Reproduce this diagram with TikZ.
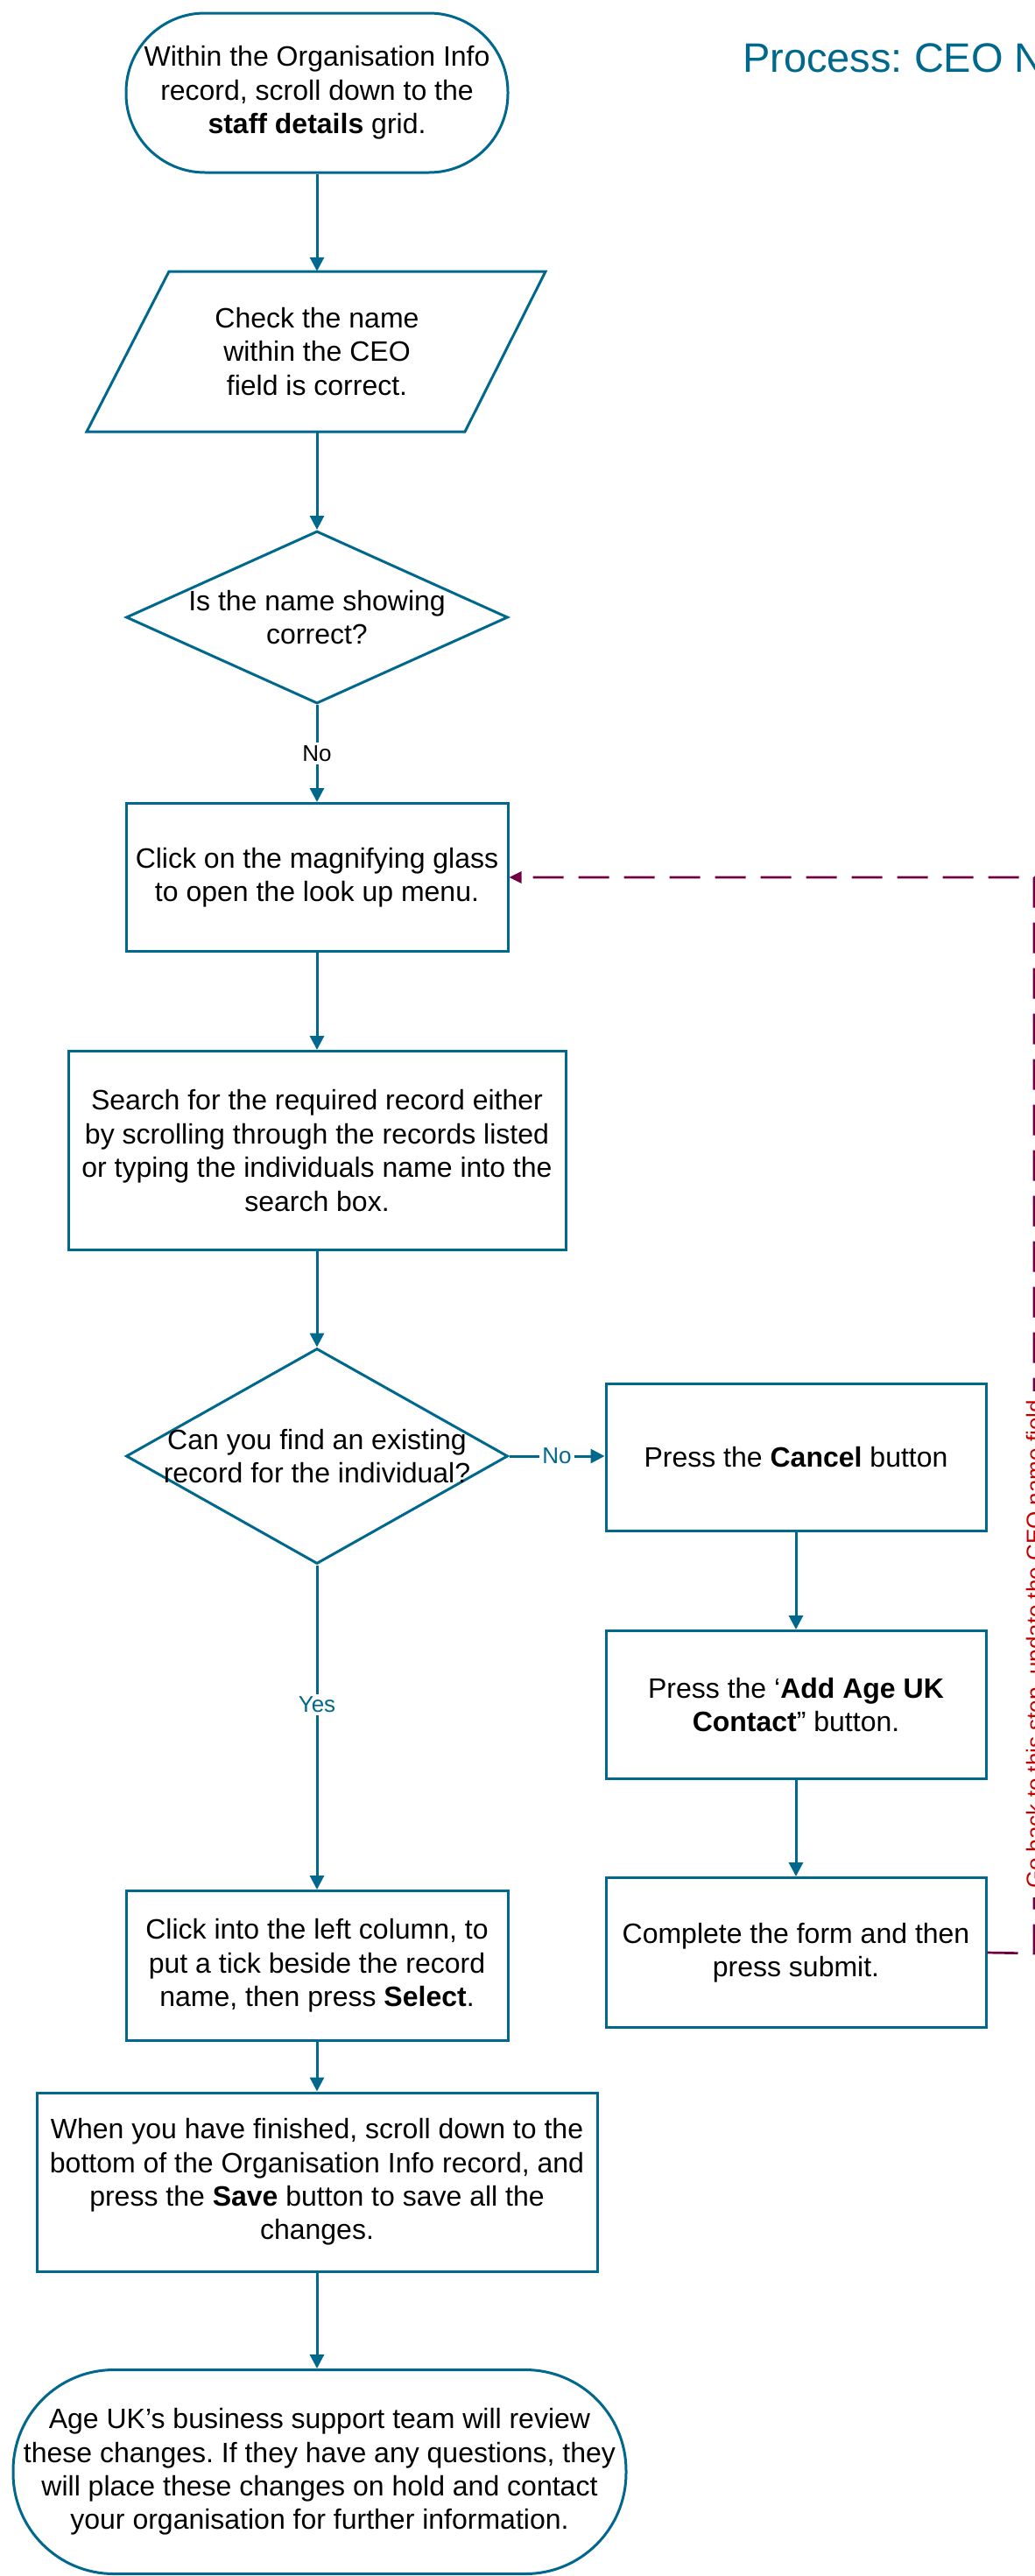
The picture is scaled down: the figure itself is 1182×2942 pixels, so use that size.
\documentclass[tikz,border=0pt]{standalone}
\usepackage{fontspec}
\setmainfont{Liberation Sans}
\usetikzlibrary{arrows.meta,shapes.geometric}
\definecolor{teal1}{RGB}{0,104,140}
\definecolor{purp}{RGB}{112,0,64}
\definecolor{red1}{RGB}{192,0,0}
\frenchspacing
\begin{document}
\begin{tikzpicture}[x=1pt,y=-1pt,
  txt/.style={align=center, inner sep=0pt, font=\fontsize{32pt}{38.4pt}\selectfont},
  box/.style={txt, draw=teal1, line width=3pt, fill=white, rectangle},
  term/.style={box},
  dia/.style={diamond, draw=teal1, line width=3pt, inner sep=0pt, fill=white},
  shapeline/.style={draw=teal1, line width=3pt, line join=miter},
  conn/.style={draw=teal1, line width=3pt, -{Triangle[width=16pt,length=16pt]}},
  lab/.style={fill=white, inner sep=3pt, font=\fontsize{26pt}{30pt}\selectfont},
  back/.style={draw=purp, line width=2.7pt, dash pattern=on 35pt off 17pt, -{Triangle[width=13pt,length=14pt]}}
]
\useasboundingbox (0,0) rectangle (1182,2942);

% title
\node[anchor=base west, inner sep=0pt, text=teal1, font=\fontsize{47pt}{56pt}\selectfont] (title) at (848,82) {Process: CEO N};

% nodes
\node[term, minimum width=436pt, minimum height=182pt, rounded corners=90pt] (n1) at (362,106)
  {Within the Organisation Info\\record, scroll down to the\\\textbf{staff details} grid.};

\draw[shapeline] (193,310) -- (623,310) -- (531,493) -- (99,493) -- cycle;
\node[txt, minimum width=430pt, minimum height=183pt] (n2) at (362,401.5)
  {Check the name\\within the CEO\\field is correct.};

\node[dia, minimum width=436pt, minimum height=197pt] (n3) at (362,705) {};
\node[txt] (t3) at (n3) {Is the name showing\\correct?};

\node[box, minimum width=436pt, minimum height=169pt] (n4) at (362,1002)
  {Click on the magnifying glass\\to open the look up menu.};

\node[box, minimum width=568pt, minimum height=227pt] (n5) at (362,1314)
  {Search for the required record either\\by scrolling through the records listed\\or typing the individuals name into the\\search box.};

\node[dia, minimum width=436pt, minimum height=246pt] (n6) at (362,1663) {};
\node[txt] (t6) at (n6) {Can you find an existing\\record for the individual?};

\node[box, minimum width=434pt, minimum height=168pt] (n7) at (909,1664)
  {Press the \textbf{Cancel} button};

\node[box, minimum width=434pt, minimum height=169pt] (n8) at (909,1947)
  {Press the ‘\textbf{Add Age UK}\\\textbf{Contact}” button.};

\node[box, minimum width=434pt, minimum height=171pt] (n9) at (909,2230)
  {Complete the form and then\\press submit.};

\node[box, minimum width=436pt, minimum height=171pt] (n10) at (362,2245)
  {Click into the left column, to\\put a tick beside the record\\name, then press \textbf{Select}.};

\node[box, minimum width=640pt, minimum height=204pt] (n11) at (362,2492)
  {When you have finished, scroll down to the\\bottom of the Organisation Info record, and\\press the \textbf{Save} button to save all the\\changes.};

\node[term, minimum width=700pt, minimum height=233pt, rounded corners=115pt] (n12) at (365,2823)
  {Age UK’s business support team will review\\these changes. If they have any questions, they\\will place these changes on hold and contact\\your organisation for further information.};

% connectors
\draw[conn] (n1.south) -- (n1.south |- n2.north);
\draw[conn] (n2.south) -- (n3.north);
\draw[conn] (n3.south) -- node[lab] {No} (n4.north);
\draw[conn] (n4.south) -- (n5.north);
\draw[conn] (n5.south) -- (n6.north);
\draw[conn] (n6.east) -- node[lab, text=teal1] {No} (n6.east -| n7.west);
\draw[conn] (n6.south) -- node[lab, text=teal1, pos=0.43] {Yes} (n10.north);
\draw[conn] (n7.south) -- (n8.north);
\draw[conn] (n8.south) -- (n9.north);
\draw[conn] (n10.south) -- (n11.north);
\draw[conn] (n11.south) -- (n11.south |- n12.north);

% loop back
\coordinate (c1) at (1181,2231);
\coordinate (c2) at (1181,1002);
\draw[back] (n9.east) -- (c1) -- (c2) -- (n4.east);
\node[rotate=90, fill=white, inner xsep=10pt, inner ysep=2pt, text=red1, font=\fontsize{26pt}{30pt}\selectfont] (lbl) at (1184,1878)
  {Go back to this step, update the CEO name field};
\end{tikzpicture}
\end{document}
